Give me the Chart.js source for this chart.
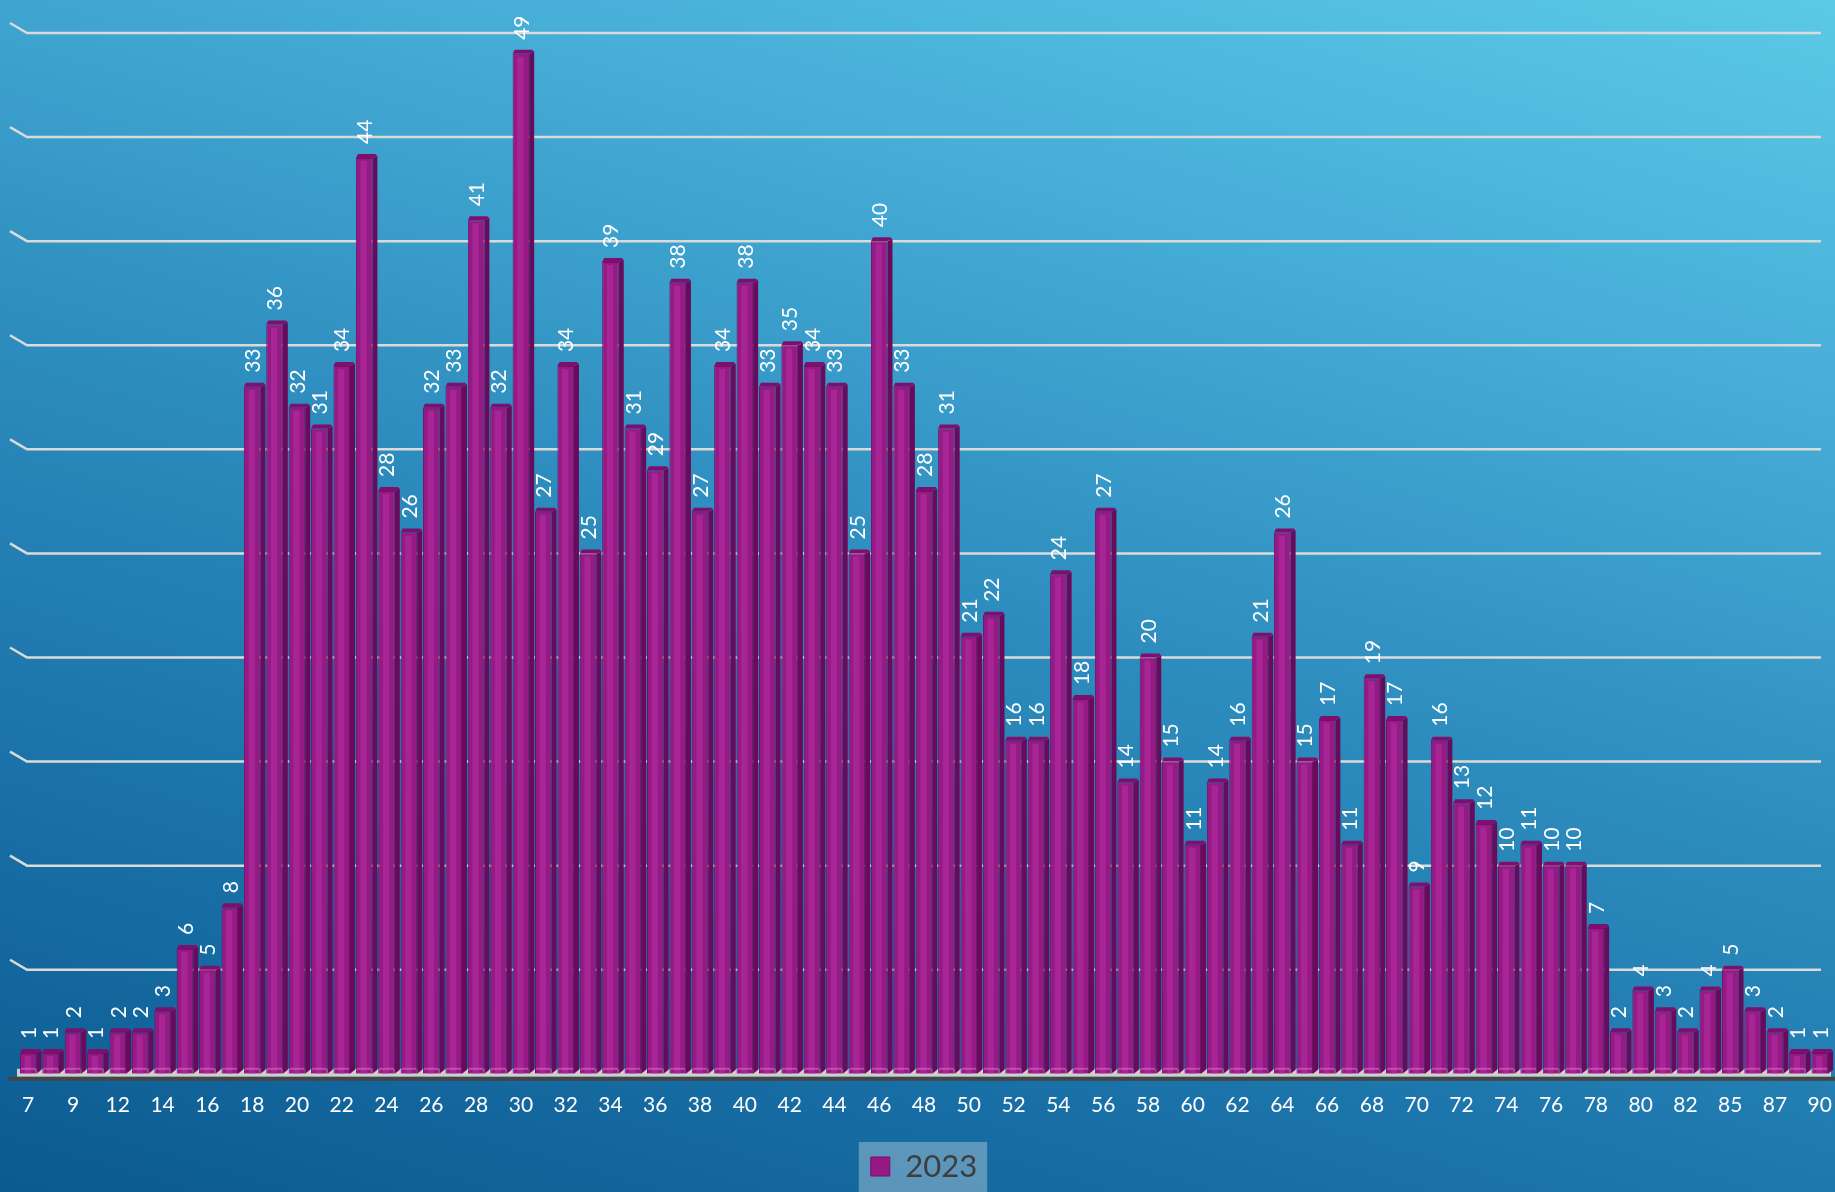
<!DOCTYPE html>
<html>
<head>
<meta charset="UTF-8">
<title>2023</title>
<script src="https://cdn.jsdelivr.net/npm/chart.js"></script>
<style>
  html, body { margin: 0; padding: 0; }
  body { width: 1835px; height: 1192px; overflow: hidden;
    background: linear-gradient(196deg, #5cc9e7 0%, #45acd6 25%, #2d8cbe 50%, #1a72a8 75%, #0b5a91 100%); }
  #wrap { position: relative; width: 1835px; height: 1192px; }
</style>
</head>
<body>
<div id="wrap"><canvas id="chart"></canvas></div>
<script>
// categories (ages) and counts for 2023
const categories = ['7', '8', '9', '10', '12', '13', '14', '15', '16', '17',
  '18', '19', '20', '21', '22', '23', '24', '25', '26', '27',
  '28', '29', '30', '31', '32', '33', '34', '35', '36', '37',
  '38', '39', '40', '41', '42', '43', '44', '45', '46', '47',
  '48', '49', '50', '51', '52', '53', '54', '55', '56', '57',
  '58', '59', '60', '61', '62', '63', '64', '65', '66', '67',
  '68', '69', '70', '71', '72', '73', '74', '75', '76', '77',
  '78', '79', '80', '81', '82', '84', '85', '86', '87', '89', '90'];
const values2023 = [1, 1, 2, 1, 2, 2, 3, 6, 5, 8,
  33, 36, 32, 31, 34, 44, 28, 26, 32, 33,
  41, 32, 49, 27, 34, 25, 39, 31, 29, 38,
  27, 34, 38, 33, 35, 34, 33, 25, 40, 33,
  28, 31, 21, 22, 16, 16, 24, 18, 27, 14,
  20, 15, 11, 14, 16, 21, 26, 15, 17, 11,
  19, 17, 9, 16, 13, 12, 10, 11, 10, 10,
  7, 2, 4, 3, 2, 4, 5, 3, 2, 1, 1];
const seriesName = '2023';

const FONT = "'Lato', 'Open Sans', sans-serif";
const DX = 5, DY = 4; // depth of the fake 3d

const threeD = {
  id: 'threeD',
  beforeDraw(chart) {
    // light box behind the legend
    const lg = chart.legend;
    if (!lg || !lg.legendHitBoxes.length) return;
    const hb = lg.legendHitBoxes[0];
    const ctx = chart.ctx;
    ctx.save();
    ctx.fillStyle = 'rgba(180,205,220,0.45)';
    ctx.fillRect(hb.left - 12, hb.top - 9, hb.width + 22, chart.height - hb.top + 9);
    ctx.restore();
  },
  beforeDatasetsDraw(chart) {
    const ctx = chart.ctx;
    const y = chart.scales.y;
    const area = chart.chartArea;
    ctx.save();
    // back wall grid lines
    ctx.strokeStyle = '#dadada';
    ctx.lineWidth = 2.5;
    y.ticks.forEach((t) => {
      if (t.value === 0) return;
      const py = y.getPixelForValue(t.value);
      ctx.beginPath();
      ctx.moveTo(area.left - 7, py - 10);
      ctx.lineTo(area.left + 10, py);
      ctx.lineTo(area.right - 10, py);
      ctx.stroke();
    });
    // floor
    const base = y.getPixelForValue(0);
    ctx.fillStyle = '#cfcfcf';
    ctx.fillRect(area.left, base - 5, area.right - area.left, 8);
    ctx.fillStyle = '#454545';
    ctx.fillRect(8, base + 3, chart.width - 8, 4);
    ctx.restore();
  },
  afterDatasetsDraw(chart) {
    const ctx = chart.ctx;
    const meta = chart.getDatasetMeta(0);
    const data = chart.data.datasets[0].data;
    ctx.save();
    meta.data.forEach((bar, i) => {
      const w = bar.width;
      const l = bar.x - w / 2;
      const r = bar.x + w / 2;
      const top = bar.y;
      const base = bar.base;
      // lighter stripe on the front face
      ctx.fillStyle = 'rgba(190,50,170,0.45)';
      ctx.fillRect(bar.x - w * 0.22, top + 3, w * 0.38, base - top - 3);
      // right side
      ctx.fillStyle = '#690b5b';
      ctx.beginPath();
      ctx.moveTo(r, top);
      ctx.lineTo(r + DX, top - DY + 2);
      ctx.lineTo(r + DX, base - DY);
      ctx.lineTo(r, base);
      ctx.closePath();
      ctx.fill();
      // top cap
      ctx.fillStyle = '#7d0f6e';
      ctx.beginPath();
      ctx.moveTo(l, top);
      ctx.lineTo(l + 2, top - DY);
      ctx.lineTo(r + DX - 2, top - DY);
      ctx.lineTo(r + DX, top - DY + 2);
      ctx.lineTo(r, top);
      ctx.closePath();
      ctx.fill();
      // light bottom edge
      ctx.fillStyle = 'rgba(230,120,210,0.5)';
      ctx.fillRect(l + 1, base - 6, w - 2, 2);
      // value label
      ctx.save();
      ctx.translate(bar.x + 1, top - 14);
      ctx.rotate(-Math.PI / 2);
      ctx.fillStyle = '#ffffff';
      ctx.font = '21px ' + FONT;
      ctx.textAlign = 'left';
      ctx.textBaseline = 'middle';
      ctx.fillText(String(data[i]), 0, 0);
      ctx.restore();
    });
    ctx.restore();
  }
};

new Chart(document.getElementById('chart'), {
  type: 'bar',
  data: {
    labels: categories,
    datasets: [{
      label: seriesName,
      data: values2023,
      backgroundColor: '#951a84',
      borderColor: '#74106a',
      borderWidth: 1,
      barPercentage: 0.88,
      categoryPercentage: 0.84
    }]
  },
  options: {
    responsive: true,
    maintainAspectRatio: false,
    animation: false,
    layout: { padding: { top: 33, left: 17, right: 4, bottom: 0 } },
    scales: {
      x: {
        grid: { display: false },
        border: { display: false },
        afterFit(scale) { scale.paddingLeft = 0; scale.paddingRight = 0; scale.height += 8; },
        ticks: {
          autoSkip: false,
          maxRotation: 0,
          padding: 11,
          color: '#ffffff',
          font: { family: FONT, size: 21 },
          callback(v, i) { return i % 2 === 0 ? this.getLabelForValue(v) : ''; }
        }
      },
      y: {
        display: false,
        min: 0,
        max: 50,
        ticks: { stepSize: 5 }
      }
    },
    plugins: {
      legend: {
        position: 'bottom',
        labels: {
          color: '#3d3d3d',
          font: { family: FONT, size: 31 },
          boxWidth: 19,
          boxHeight: 19,
          padding: 14
        }
      },
      tooltip: { enabled: false }
    }
  },
  plugins: [threeD]
});
</script>
</body>
</html>
